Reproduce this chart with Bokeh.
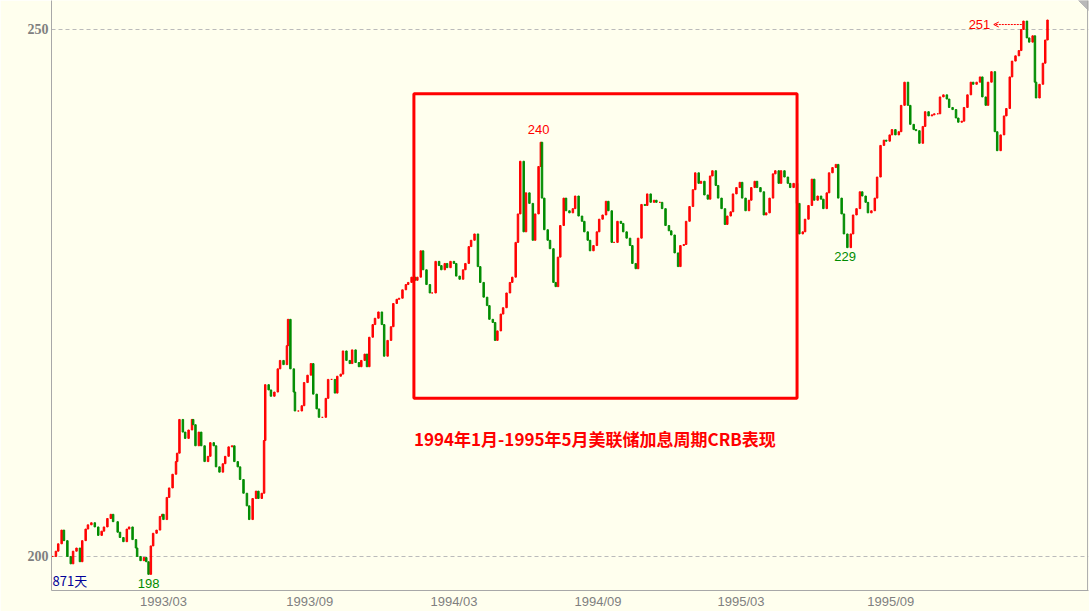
from bokeh.plotting import figure
from bokeh.models import Range1d, FixedTicker, Label, Arrow, OpenHead, BoxAnnotation, ColumnDataSource, Span
from bokeh.embed import file_html
from bokeh.resources import INLINE

# ---- data (CRB index; trading-day index and close, 871 trading days) ----
total_days = 871
days = [
    0, 3, 5, 8, 10, 13, 16, 18, 21, 24,
    26, 29, 31, 34, 37, 40, 43, 45, 48, 51,
    53, 57, 59, 62, 65, 67, 70, 73, 74, 77,
    80, 82, 84, 86, 88, 91, 94, 96, 97, 100,
    102, 105, 108, 109, 111, 114, 116, 119, 122, 123,
    125, 128, 130, 133, 136, 138, 141, 143, 146, 149,
    151, 154, 157, 159, 162, 164, 167, 170, 172, 175,
    178, 180, 183, 185, 186, 189, 191, 194, 197, 199,
    202, 205, 206, 208, 211, 212, 215, 218, 220, 223,
    226, 228, 231, 233, 236, 239, 241, 244, 247, 249,
    252, 254, 257, 260, 262, 265, 268, 270, 273, 275,
    277, 280, 282, 285, 288, 290, 293, 296, 298, 301,
    303, 306, 309, 311, 314, 317, 319, 322, 324, 327,
    330, 332, 335, 338, 340, 343, 345, 348, 351, 353,
    356, 359, 361, 364, 366, 369, 372, 374, 377, 380,
    382, 385, 387, 389, 392, 394, 397, 400, 402, 405,
    407, 409, 412, 414, 417, 420, 422, 425, 427, 428,
    430, 433, 435, 438, 440, 442, 444, 447, 449, 452,
    455, 457, 460, 463, 465, 468, 470, 473, 476, 478,
    481, 484, 486, 489, 491, 494, 497, 499, 502, 505,
    507, 510, 512, 515, 518, 520, 523, 526, 528, 531,
    533, 536, 539, 541, 544, 547, 549, 552, 554, 557,
    560, 562, 565, 567, 570, 573, 575, 577, 580, 582,
    585, 588, 590, 593, 595, 598, 601, 603, 606, 609,
    611, 614, 616, 619, 622, 624, 627, 630, 632, 635,
    637, 640, 643, 645, 648, 651, 653, 656, 658, 661,
    664, 666, 669, 672, 674, 677, 679, 682, 685, 687,
    690, 692, 695, 698, 700, 703, 706, 708, 711, 713,
    716, 719, 721, 724, 727, 729, 732, 734, 737, 740,
    742, 745, 748, 750, 753, 755, 758, 761, 763, 766,
    769, 771, 774, 776, 779, 782, 784, 787, 790, 792,
    795, 797, 800, 803, 805, 808, 811, 813, 816, 818,
    821, 824, 826, 829, 832, 834, 837, 839, 842, 845,
    847, 849, 852, 854, 857, 859, 860, 863, 866, 868,
    870,
]
closes = [
    200.0, 200.5, 201.2, 202.5, 201.5, 200.0, 199.3, 200.5, 200.8, 199.5,
    201.5, 202.6, 203.0, 203.2, 202.8, 202.0, 202.4, 202.8, 203.6, 204.0,
    203.3, 202.3, 201.8, 201.4, 202.6, 202.8, 201.6, 200.8, 200.0, 199.6,
    199.9, 199.5, 198.3, 201.0, 202.2, 202.5, 203.8, 204.0, 203.5, 205.6,
    206.5, 207.8, 209.0, 209.8, 213.0, 211.8, 211.2, 212.0, 213.0, 212.5,
    210.5, 211.8, 210.5, 209.0, 209.5, 210.8, 210.5, 208.5, 208.0, 208.8,
    209.5, 210.4, 210.5, 209.0, 208.5, 207.3, 206.0, 204.8, 203.5, 205.5,
    206.2, 205.5, 206.0, 211.0, 216.3, 215.8, 215.2, 215.6, 217.8, 218.6,
    218.2, 220.0, 222.5, 217.8, 215.6, 213.8, 213.8, 214.3, 216.5, 217.2,
    218.3, 215.4, 214.0, 213.2, 213.2, 215.0, 216.8, 216.8, 215.5, 217.1,
    217.3, 219.5, 218.6, 218.3, 219.6, 218.4, 218.0, 218.6, 219.2, 218.0,
    220.8, 222.0, 222.6, 223.2, 222.0, 219.0, 220.5, 221.8, 224.0, 224.4,
    224.5, 225.3, 225.8, 226.0, 226.5, 226.2, 226.5, 229.0, 227.2, 225.8,
    225.0, 225.0, 228.0, 227.6, 227.2, 227.8, 227.4, 228.0, 227.8, 226.6,
    226.3, 227.2, 227.8, 229.4, 230.0, 230.6, 227.5, 226.0, 224.6, 223.8,
    222.5, 222.2, 220.5, 221.4, 223.0, 223.6, 225.0, 226.0, 226.5, 229.8,
    232.5, 237.5, 230.8, 234.5, 233.5, 230.0, 232.5, 237.0, 239.3, 234.0,
    231.0, 230.0, 229.2, 226.0, 225.6, 228.4, 231.4, 234.0, 232.8, 232.6,
    233.0, 234.2, 232.3, 231.8, 230.8, 230.0, 229.0, 229.5, 230.8, 232.0,
    232.4, 233.7, 232.8, 229.8, 229.8, 231.8, 231.6, 230.8, 230.2, 229.5,
    227.8, 227.3, 230.2, 233.4, 233.3, 234.4, 233.6, 233.8, 233.6, 233.6,
    233.0, 231.4, 230.9, 230.5, 228.8, 227.5, 229.5, 229.6, 231.8, 233.2,
    234.8, 236.4, 235.4, 235.6, 234.3, 233.9, 236.1, 236.6, 235.2, 234.0,
    233.0, 231.5, 232.3, 232.7, 234.4, 235.0, 235.5, 234.0, 232.8, 233.8,
    235.0, 235.6, 235.0, 234.6, 232.4, 232.6, 234.0, 236.3, 236.6, 235.4,
    236.6, 236.0, 235.4, 235.0, 235.4, 233.5, 230.6, 230.8, 232.0, 233.3,
    235.8, 233.8, 234.2, 233.9, 233.0, 234.5, 236.4, 236.9, 237.2, 234.0,
    232.5, 230.6, 229.3, 230.6, 232.4, 233.0, 234.6, 234.2, 233.6, 232.6,
    232.8, 234.0, 236.0, 239.0, 239.5, 239.4, 240.0, 240.5, 240.0, 240.3,
    242.8, 245.0, 242.8, 241.0, 240.5, 240.4, 239.2, 240.8, 242.2, 241.8,
    241.9, 242.0, 242.0, 243.6, 243.8, 243.4, 242.6, 242.4, 241.6, 241.2,
    241.3, 242.6, 243.8, 245.0, 244.8, 245.0, 245.5, 243.6, 242.8, 245.0,
    246.0, 240.3, 238.5, 240.0, 241.8, 242.5, 245.5, 247.0, 247.5, 248.0,
    250.0, 250.8, 249.2, 248.8, 249.4, 245.0, 243.5, 244.8, 246.8, 249.0,
    250.9,
]

tick_days = [97, 225, 351, 477, 602, 733]
tick_labels = ["1993/03", "1993/09", "1994/03", "1994/09", "1995/03", "1995/09"]
y_ticks = [200, 250]

# rate-hike window: 1994/01 .. 1995/05
box_days = [316, 651]
box_values = [215.0, 243.9]
title_text = "1994年1月-1995年5月美联储加息周期CRB表现"

# marked extremes
marks_day = [425, 693, 84]
marks_value = [240.5, 228.5, 197.45]
marks_text = ["240", "229", "198"]
marks_color = ["#FF0000", "#008C00", "#008C00"]
high_day, high_value, high_text = 849, 250.47, "251"

# ---- derived candles (open = previous close) ----
opens = [closes[0]] + closes[:-1]
tops = [max(o, c) for o, c in zip(opens, closes)]
bottoms = [min(o, c) for o, c in zip(opens, closes)]
colors = ["#FF0000" if c >= o else "#008C00" for o, c in zip(opens, closes)]
src = ColumnDataSource(dict(x=days, top=tops, bottom=bottoms, color=colors))

BG = "#FFFFEE"
px_per_day = 1.1437
x0 = -1.0 / px_per_day
x1 = x0 + 1037 / px_per_day
y0, y1 = 196.77, 252.75

p = figure(width=1089, height=611, output_backend="svg", toolbar_location=None,
           x_range=Range1d(x0, x1), y_range=Range1d(y0, y1),
           min_border_left=51, min_border_right=1, min_border_top=0, min_border_bottom=21)
p.background_fill_color = BG
p.border_fill_color = BG
p.outline_line_color = None

p.vbar(x="x", width=1.3, top="top", bottom="bottom", source=src,
       fill_color="color", line_color="color", line_width=1)

# axes
p.yaxis.ticker = FixedTicker(ticks=y_ticks)
p.yaxis.major_label_text_font = "Liberation Serif"
p.yaxis.major_label_text_font_style = "bold"
p.yaxis.major_label_text_font_size = "14px"
p.yaxis.major_label_text_color = "#808080"
p.yaxis.major_label_standoff = 3
p.yaxis.major_tick_out = 0
p.yaxis.major_tick_in = 0
p.yaxis.major_tick_line_color = None
p.yaxis.minor_tick_line_color = None
p.yaxis.axis_line_color = "#A8A8A8"

p.xaxis.ticker = FixedTicker(ticks=tick_days)
p.xaxis.major_label_overrides = {d: t for d, t in zip(tick_days, tick_labels)}
p.xaxis.major_label_text_font = "Liberation Sans"
p.xaxis.major_label_text_font_size = "13px"
p.xaxis.major_label_text_color = "#808080"
p.xaxis.major_label_standoff = 3
p.xaxis.major_tick_out = 0
p.xaxis.major_tick_in = 0
p.xaxis.major_tick_line_color = None
p.xaxis.minor_tick_line_color = None
p.xaxis.axis_line_color = "#A8A8A8"

p.xgrid.visible = False
p.ygrid.grid_line_color = "#BBBBBB"
p.ygrid.grid_line_dash = "4 3"

# right frame border and folded corner
p.add_layout(Span(location=x1 - 0.9 / px_per_day, dimension="height", line_color="#A8A8A8", line_width=1))
corner_w = 10 / px_per_day
corner_h = 10 / 10.54
p.patch([x1 - corner_w, x1, x1], [y1, y1, y1 - corner_h], fill_color="#B8B8B8", line_color="#B8B8B8")

# window box and caption
p.add_layout(BoxAnnotation(left=box_days[0], right=box_days[1], bottom=box_values[0], top=box_values[1],
                           fill_alpha=0, line_color="#FF0000", line_alpha=1.0, line_width=3))
p.add_layout(Label(x=box_days[0], y=211.2, text=title_text, text_font="Noto Sans CJK SC",
                   text_font_style="bold", text_font_size="17px", text_color="#FF0000",
                   text_align="left", text_baseline="middle"))

for d, v, t, c in zip(marks_day, marks_value, marks_text, marks_color):
    p.add_layout(Label(x=d, y=v, text=t, text_font="Liberation Sans", text_font_size="13px",
                       text_color=c, text_align="center", text_baseline="middle"))

p.add_layout(Label(x=0, y=197.7, text=f"{total_days}天", text_font="Noto Sans CJK SC",
                   text_font_size="13px", text_color="#000099", text_align="left", text_baseline="middle"))

p.add_layout(Label(x=high_day - 29, y=high_value, text=high_text, text_font="Liberation Sans",
                   text_font_size="13px", text_color="#FF0000", text_align="right", text_baseline="middle"))
p.add_layout(Arrow(end=OpenHead(size=5, line_color="#FF0000", line_width=1),
                   x_start=high_day - 1.5, y_start=high_value, x_end=high_day - 26, y_end=high_value,
                   line_color="#FF0000", line_width=1, line_dash="2 1"))

open("out.html", "w").write(file_html(p, INLINE))
